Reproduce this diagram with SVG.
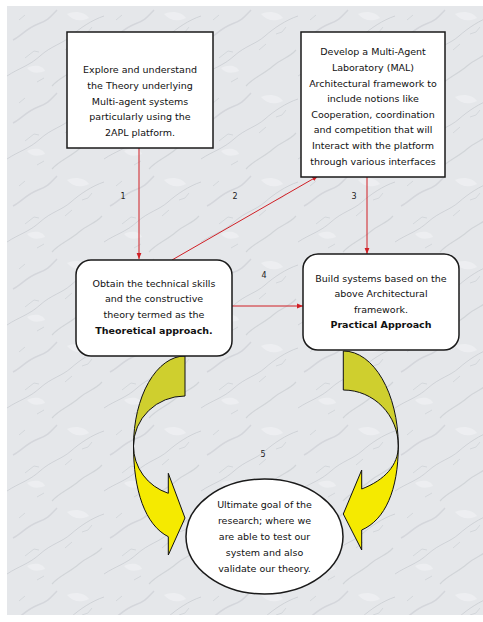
<svg xmlns="http://www.w3.org/2000/svg" width="483" height="622" viewBox="0 0 483 622">
<defs>
<style>
.box{fill:#ffffff;stroke:#1a1a1a;stroke-width:1.5}
.t{font-family:"DejaVu Sans","Verdana",sans-serif;font-size:9.5px;fill:#111;text-anchor:middle}
.b{font-weight:bold}
.n{font-family:"DejaVu Sans","Verdana",sans-serif;font-size:8px;fill:#222;text-anchor:middle}
.c{stroke:#d01f25;stroke-width:1;fill:none}
.olive{fill:#cfcf2e;stroke:#111;stroke-width:1}
.yel{fill:#f5ea00;stroke:#111;stroke-width:1}
.v{fill:none;stroke:#b4b8bf}
</style>
<marker id="ah" viewBox="0 0 10 10" refX="10" refY="5" markerWidth="6" markerHeight="6" orient="auto" markerUnits="userSpaceOnUse">
<path d="M0,1 L10,5 L0,9 Z" fill="#d01f25"/>
</marker>
<pattern id="marble" x="7" y="6" width="97" height="83" patternUnits="userSpaceOnUse">
<rect width="97" height="83" fill="#e5e7ea"/>
<path class="v" d="M0,70 C12,62 22,60 33,50 S55,38 64,30 S85,14 97,10" stroke-width="1" opacity="0.45"/>
<path class="v" d="M6,34 C14,30 20,22 31,18 S44,10 50,4" stroke-width="1.6" opacity="0.35"/>
<path class="v" d="M45,80 C52,72 63,68 72,60 S88,52 95,44" stroke-width="1.2" opacity="0.4"/>
<path class="v" d="M18,52 l9,-7 l5,1 M58,44 l7,-6 M12,14 l6,-5 M75,28 l6,-2 l4,-5 M30,76 l7,-4" stroke-width="0.8" opacity="0.45"/>
<path d="M60,8 C68,4 78,6 82,12 C74,16 66,15 60,8 Z M20,62 C28,58 36,60 38,65 C30,68 24,67 20,62 Z" fill="#f2f3f5" opacity="0.6"/>
</pattern>
</defs>
<rect x="0" y="0" width="483" height="622" fill="#ffffff"/>
<rect x="7" y="6" width="476" height="609" fill="url(#marble)"/>

<g id="connectors">
<line class="c" x1="139" y1="148" x2="139" y2="259" marker-end="url(#ah)"/>
<line class="c" x1="172" y1="260" x2="318" y2="176" marker-end="url(#ah)"/>
<line class="c" x1="367" y1="177" x2="367" y2="254" marker-end="url(#ah)"/>
<line class="c" x1="232" y1="306" x2="303" y2="306" marker-end="url(#ah)"/>
<text class="n" x="123" y="199">1</text>
<text class="n" x="235" y="199">2</text>
<text class="n" x="354" y="199">3</text>
<text class="n" x="264" y="278">4</text>
<text class="n" x="263" y="457">5</text>
</g>

<g id="curved-arrow-left">
<path class="olive" d="M185,356 A51.5,90 0 0 0 133.5,446 A51.5,50 0 0 1 185,396 Z"/>
<path class="yel" d="M133.5,446 A51.5,50 0 0 0 168.3,493.3 L168.3,473.3 L185,518 L168.3,555 L168.3,536.7 C145,525 133.5,490 133.5,446 Z"/>
</g>

<g id="curved-arrow-right">
<path class="olive" d="M343.3,351 C373.7,351 398.3,393.5 398.3,446 C398.3,415 373.7,390 343.3,390 Z"/>
<path class="yel" d="M398.3,446 C398.3,465 385,480 361.7,489 L361.7,470 L343.3,514 L361.7,550 L361.7,530 C385,520 398.3,490 398.3,446 Z"/>
</g>

<g id="node-explore">
<rect class="box" x="67" y="32" width="146" height="116"/>
<text class="t" x="140" y="73">Explore and understand</text>
<text class="t" x="140" y="88.5">the Theory underlying</text>
<text class="t" x="140" y="104.5">Multi-agent systems</text>
<text class="t" x="140" y="120">particularly using the</text>
<text class="t" x="140" y="136">2APL platform.</text>
</g>

<g id="node-develop">
<rect class="box" x="301" y="32" width="144" height="145"/>
<text class="t" x="373" y="55">Develop a Multi-Agent</text>
<text class="t" x="373" y="70.7">Laboratory (MAL)</text>
<text class="t" x="373" y="86.7">Architectural framework to</text>
<text class="t" x="373" y="102.3">include notions like</text>
<text class="t" x="373" y="117.7">Cooperation, coordination</text>
<text class="t" x="373" y="133.3">and competition that will</text>
<text class="t" x="373" y="149">Interact with the platform</text>
<text class="t" x="373" y="165">through various interfaces</text>
</g>

<g id="node-theoretical">
<rect class="box" x="76" y="260" width="156" height="96" rx="15" ry="15"/>
<text class="t" x="154" y="286.7">Obtain the technical skills</text>
<text class="t" x="154" y="302.3">and the constructive</text>
<text class="t" x="154" y="318.3">theory termed as the</text>
<text class="t b" x="154" y="334">Theoretical approach.</text>
</g>

<g id="node-practical">
<rect class="box" x="303" y="254" width="156" height="96" rx="15" ry="15"/>
<text class="t" x="381" y="281.7">Build systems based on the</text>
<text class="t" x="381" y="296.7">above Architectural</text>
<text class="t" x="381" y="312.7">framework.</text>
<text class="t b" x="381" y="328.3">Practical Approach</text>
</g>

<g id="node-goal">
<ellipse class="box" cx="264.5" cy="536.5" rx="78.5" ry="57.5"/>
<text class="t" x="264.5" y="508.3">Ultimate goal of the</text>
<text class="t" x="264.5" y="524.3">research; where we</text>
<text class="t" x="264.5" y="540">are able to test our</text>
<text class="t" x="264.5" y="556">system and also</text>
<text class="t" x="264.5" y="571.7">validate our theory.</text>
</g>
</svg>
